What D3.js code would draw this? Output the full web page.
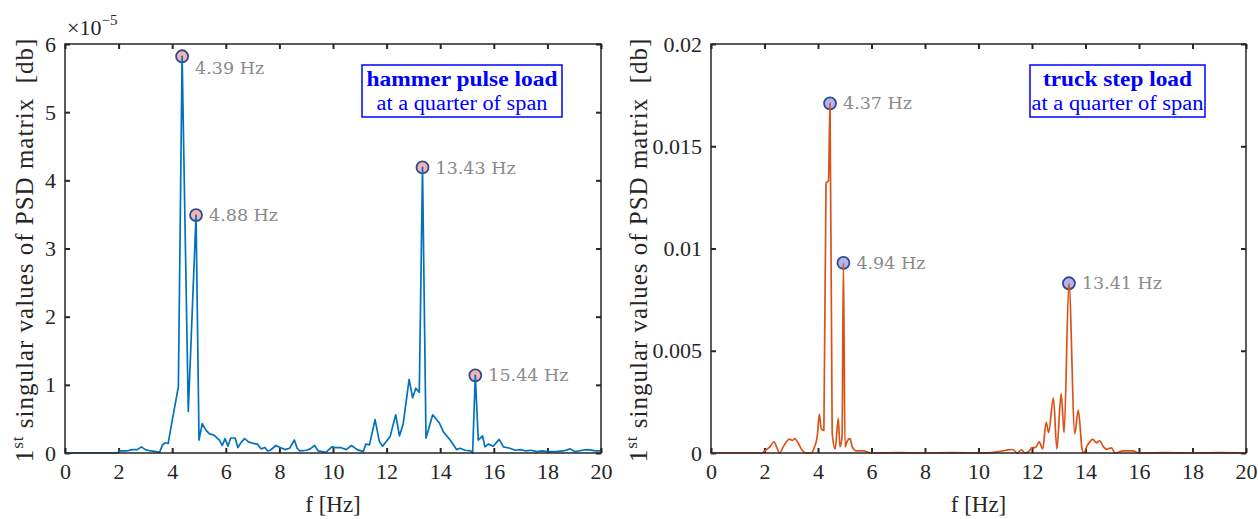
<!DOCTYPE html>
<html>
<head>
<meta charset="utf-8">
<script src="https://cdn.jsdelivr.net/npm/d3@7"></script>
<style>
  body { margin: 0; background: #fff; }
  text { font-family: "Liberation Serif", "DejaVu Serif", serif; fill: #262626; }
</style>
</head>
<body>
<svg id="chart" width="1258" height="519"></svg>
<script>
// shared frequency axis
var freqTicks = [0, 2, 4, 6, 8, 10, 12, 14, 16, 18, 20];

// hammer pulse load, values in units of 1e-5
var hammerTicks = [0, 1, 2, 3, 4, 5, 6];
var hammerPsd = [
  [0, 0], [0.5, 0], [1, 0], [1.5, 0], [1.95, 0], [2.05, 0.03], [2.3, 0.03], [2.5, 0.05],
  [2.7, 0.05], [2.85, 0.09], [3.0, 0.05], [3.2, 0.03], [3.4, 0.02], [3.53, 0.01], [3.64, 0.12],
  [3.75, 0.15], [3.85, 0.14], [4.0, 0.48], [4.23, 0.97], [4.37, 5.82], [4.6, 0.61], [4.89, 3.49],
  [5.0, 0.19], [5.12, 0.43], [5.25, 0.34], [5.39, 0.28], [5.5, 0.27], [5.57, 0.26], [5.76, 0.19],
  [5.87, 0.11], [5.97, 0.21], [6.08, 0.10], [6.18, 0.22], [6.35, 0.22], [6.45, 0.08], [6.58, 0.16],
  [6.70, 0.21], [6.86, 0.16], [7.04, 0.14], [7.18, 0.13], [7.32, 0.06], [7.46, 0.08], [7.56, 0.03],
  [7.66, 0.04], [7.87, 0.11], [8.03, 0.08], [8.21, 0.05], [8.38, 0.07], [8.56, 0.19], [8.66, 0.07],
  [8.76, 0.03], [9.01, 0.04], [9.15, 0.06], [9.31, 0.11], [9.45, 0.03], [9.6, 0.02], [9.73, 0.01],
  [9.96, 0.09], [10.1, 0.08], [10.28, 0.08], [10.49, 0.05], [10.69, 0.11], [10.9, 0.05], [11.13, 0.02],
  [11.22, 0.13], [11.36, 0.12], [11.57, 0.49], [11.73, 0.17], [11.85, 0.10], [12.13, 0.24], [12.34, 0.56],
  [12.48, 0.25], [12.62, 0.43], [12.84, 1.08], [12.97, 0.81], [13.09, 0.95], [13.22, 0.89], [13.34, 4.19],
  [13.47, 0.22], [13.72, 0.56], [13.97, 0.44], [14.12, 0.31], [14.37, 0.19], [14.61, 0.05], [14.74, 0.07],
  [14.93, 0.04], [15.14, 0.03], [15.21, 0.0], [15.31, 1.14], [15.42, 0.19], [15.58, 0.25], [15.67, 0.09],
  [15.80, 0.13], [15.98, 0.10], [16.2, 0.2], [16.36, 0.09], [16.6, 0.07], [16.8, 0.04], [17.0, 0.05],
  [17.2, 0.03], [17.4, 0.04], [17.6, 0.02], [17.8, 0.03], [18.0, 0.02], [18.3, 0.02], [18.6, 0.03],
  [18.85, 0.06], [19.05, 0.02], [19.3, 0.04], [19.5, 0.05], [19.8, 0.03], [20, 0.03]
];
var hammerPeaks = [[4.37, 5.82, "4.39 Hz"], [4.89, 3.49, "4.88 Hz"], [13.34, 4.19, "13.43 Hz"], [15.31, 1.14, "15.44 Hz"]];

// truck step load
var truckTicks = [0, 0.005, 0.01, 0.015, 0.02];
var truckPsd = [
  [0, 0], [1, 0], [1.9, 0], [2.0, 0.0001], [2.2, 0.0003], [2.36, 0.00055], [2.45, 0.0003], [2.57, 0.0],
  [2.7, 0.0003], [2.85, 0.0006], [2.93, 0.00068], [3.05, 0.00062], [3.13, 0.0007], [3.25, 0.0005],
  [3.4, 0.00015], [3.55, 0.0], [3.75, 0.0], [3.87, 0.0003], [3.97, 0.0008], [4.05, 0.0019], [4.12, 0.0012],
  [4.22, 0.0011], [4.3, 0.0132], [4.39, 0.0133], [4.45, 0.0171], [4.53, 0.001], [4.64, 0.0002],
  [4.76, 0.0017], [4.82, 0.0003], [4.9, 0.0008], [4.95, 0.0093], [5.01, 0.0003], [5.1, 0.0006],
  [5.2, 0.0007], [5.28, 0.0003], [5.45, 0.0001], [5.7, 0.0001], [6.0, 0], [7.0, 0.00002], [8.0, 0],
  [9.0, 0.00002], [10.0, 0], [10.5, 0.00002], [10.9, 0.0001], [11.1, 0.00015], [11.27, 0.00017], [11.45, 0.0],
  [11.6, 0.00015], [11.75, 0.0], [11.9, 0.0001], [12.0, 0.00026], [12.12, 0.00026], [12.27, 0.00054],
  [12.4, 0.0002], [12.53, 0.0015], [12.62, 0.0010], [12.8, 0.0027], [12.93, 0.0002], [13.09, 0.0029],
  [13.2, 0.001], [13.38, 0.0083], [13.6, 0.00095], [13.73, 0.0021], [13.87, 0.0002], [13.93, 0.0],
  [14.07, 0.00037], [14.27, 0.00067], [14.4, 0.0005], [14.53, 0.0006], [14.67, 0.0003], [14.8, 0.00018],
  [14.97, 0.00025], [15.1, 0.0], [15.4, 0.0001], [15.77, 0.0001], [16.0, 0], [17.0, 0.00002], [18.0, 0],
  [19.0, 0.00002], [20, 0]
];
var truckPeaks = [[4.45, 0.0171, "4.37 Hz"], [4.95, 0.0093, "4.94 Hz"], [13.38, 0.0083, "13.41 Hz"]];

var svg = d3.select("#chart");

function drawPanel(p) {
  var width = p.right - p.left, height = 409;
  var g = svg.append("g").attr("transform", "translate(" + p.left + ",44)");

  var x = d3.scaleLinear().domain([0, 20]).range([0, width]);
  var y = d3.scaleLinear().domain([0, p.yTicks[p.yTicks.length - 1]]).range([height, 0]);

  // axes with inward ticks on all four sides
  var axisStyle = function(sel) {
    sel.attr("font-family", null).attr("font-size", null);
    sel.select(".domain").remove();
    sel.selectAll(".tick line").attr("stroke", "#262626").attr("stroke-width", 2);
    sel.selectAll(".tick text").style("font-size", "22px").attr("fill", "#262626");
  };
  g.append("g").attr("transform", "translate(0," + height + ")")
    .call(d3.axisBottom(x).tickValues(freqTicks).tickSize(-5).tickPadding(10).tickFormat(d3.format("d")))
    .call(axisStyle);
  g.append("g")
    .call(d3.axisTop(x).tickValues(freqTicks).tickSize(-5).tickFormat(""))
    .call(axisStyle);
  g.append("g")
    .call(d3.axisLeft(y).tickValues(p.yTicks).tickSize(-5).tickPadding(9).tickFormat(p.fmt))
    .call(axisStyle);
  g.append("g").attr("transform", "translate(" + width + ",0)")
    .call(d3.axisRight(y).tickValues(p.yTicks).tickSize(-5).tickFormat(""))
    .call(axisStyle);

  // peak markers
  g.selectAll(".peak").data(p.peaks).enter().append("circle")
    .attr("class", "peak")
    .attr("cx", function(d) { return x(d[0]); })
    .attr("cy", function(d) { return y(d[1]); })
    .attr("r", 6)
    .attr("fill", p.markerFill)
    .attr("stroke", "#2f4a8c")
    .attr("stroke-width", 1.8);

  var line = d3.line()
    .x(function(d) { return x(d[0]); })
    .y(function(d) { return y(d[1]); })
    .curve(p.curve);
  g.append("path").datum(p.data)
    .attr("fill", "none")
    .attr("stroke", p.color)
    .attr("stroke-width", 1.7)
    .attr("stroke-linejoin", "round")
    .attr("d", line);

  // peak labels
  g.selectAll(".peak-label").data(p.peaks).enter().append("text")
    .attr("x", function(d) { return x(d[0]) + 13; })
    .attr("y", function(d) { var cy = y(d[1]); return cy < 30 ? cy + 12 : cy; })
    .attr("dy", "0.35em")
    .style("font-family", "'DejaVu Serif', serif")
    .style("font-size", "17.5px")
    .style("fill", "#8a8a8a")
    .text(function(d) { return d[2]; });

  // frame
  g.append("rect").attr("width", width).attr("height", height)
    .attr("fill", "none").attr("stroke", "#262626").attr("stroke-width", 1.5);

  // axis labels
  svg.append("text")
    .attr("x", p.left + width / 2).attr("y", 512)
    .attr("text-anchor", "middle")
    .style("font-size", "23px")
    .text("f [Hz]");

  var yl = svg.append("text")
    .attr("transform", "translate(" + p.ylabelX + ",250) rotate(-90)")
    .attr("text-anchor", "middle")
    .style("font-size", "25px")
    .style("letter-spacing", "1px");
  yl.append("tspan").text("1");
  yl.append("tspan").attr("dy", -10).style("font-size", "17px").text("st");
  yl.append("tspan").attr("dy", 10).text(" singular values of PSD matrix\u00a0\u00a0[db]");

  // legend text box
  var bx = p.box[0] - p.left, bw = p.box[1];
  g.append("rect").attr("x", bx).attr("y", 21).attr("width", bw).attr("height", 52)
    .attr("fill", "#fff").attr("stroke", "#0000ff").attr("stroke-width", 1.5);
  g.append("text").attr("x", bx + bw / 2).attr("y", 42)
    .attr("text-anchor", "middle")
    .attr("textLength", p.textW[0]).attr("lengthAdjust", "spacingAndGlyphs")
    .style("font-size", "21px").style("font-weight", "bold").style("fill", "#0000ff")
    .text(p.title);
  g.append("text").attr("x", bx + bw / 2).attr("y", 66)
    .attr("text-anchor", "middle")
    .attr("textLength", p.textW[1]).attr("lengthAdjust", "spacingAndGlyphs")
    .style("font-size", "20px").style("fill", "#0000ff")
    .text("at a quarter of span");
}

drawPanel({
  left: 65, right: 601, yTicks: hammerTicks, fmt: d3.format("d"),
  data: hammerPsd, peaks: hammerPeaks, color: "#0072bd", markerFill: "#f4b4b4",
  curve: d3.curveLinear, ylabelX: 33, box: [362, 200], textW: [191, 171],
  title: "hammer pulse load"
});
drawPanel({
  left: 711, right: 1246, yTicks: truckTicks,
  fmt: function(d) { return d === 0 ? "0" : String(+d.toFixed(3)); },
  data: truckPsd, peaks: truckPeaks, color: "#d95319", markerFill: "#b4b4f4",
  curve: d3.curveMonotoneX, ylabelX: 647, box: [1030, 175], textW: [149, 172],
  title: "truck step load"
});

// exponent of the left y axis
var ex = svg.append("text").attr("x", 67).attr("y", 35).style("font-size", "22px");
ex.append("tspan").text("\u00d710");
ex.append("tspan").attr("dy", -10).style("font-size", "15px").text("\u22125");
</script>
</body>
</html>
